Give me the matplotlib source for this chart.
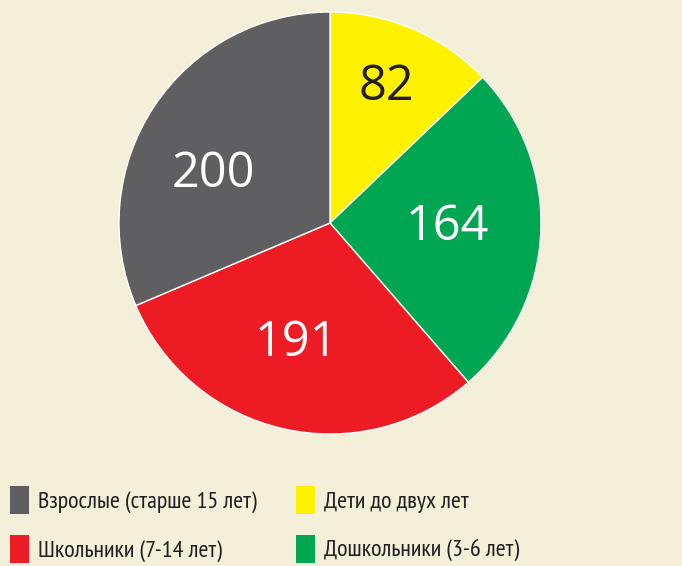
import matplotlib.pyplot as plt
import numpy as np
from matplotlib.patches import Patch
from matplotlib.transforms import offset_copy

# data (clockwise from top)
values = [82, 164, 191, 200]
labels = ["Дети до двух лет", "Дошкольники (3-6 лет)", "Школьники (7-14 лет)", "Взрослые (старше 15 лет)"]
colors = ["#fff200", "#00a651", "#ed1c24", "#5f5f61"]
text_colors = ["#231f20", "white", "white", "white"]
label_dist = [0.71, 0.557, 0.579, 0.605]
label_turn = [1.2, 1.9, -2.9, 9.45]

bg = "#f4efd8"
plt.rcParams['font.family'] = ['PT Sans Narrow', 'DejaVu Sans']

fig = plt.figure(figsize=(6.82, 5.66), dpi=100, facecolor=bg)
# square axes in pixels: center (330,223), radius 211
ax = fig.add_axes([119/682, (566-434)/566, 422/682, 422/566])
ax.set_facecolor(bg)

wedges, _ = ax.pie(values, colors=colors, startangle=90, counterclock=False, radius=1,
                   wedgeprops=dict(edgecolor="white", linewidth=1))
ax.set_xlim(-1, 1)
ax.set_ylim(-1, 1)
ax.axis("off")

num_size = 35
# baseline sits half a digit-height below the wanted ink centre
num_tr = offset_copy(ax.transData, fig=fig, y=-num_size*0.64/2, units='points')
for w, v, d, tc, turn in zip(wedges, values, label_dist, text_colors, label_turn):
    ang = np.deg2rad((w.theta1 + w.theta2) / 2 + turn)
    ax.text(d*np.cos(ang), d*np.sin(ang), str(v), ha="center", va="baseline",
            fontsize=num_size, color=tc, family=['Open Sans', 'DejaVu Sans'],
            transform=num_tr)

order = [3, 2, 0, 1]
handles = [Patch(facecolor=colors[i], edgecolor="none") for i in order]
leg = fig.legend(handles, [labels[i] for i in order], ncol=2, loc="upper left",
                 bbox_to_anchor=(3/682, 1 - 479/566), frameon=False, fontsize=17.4,
                 handlelength=0.76, handleheight=1.4, handletextpad=0.4,
                 labelspacing=0.85, columnspacing=1.63, borderaxespad=0, borderpad=0.3)
for t in leg.get_texts():
    t.set_color("#231f20")

fig.savefig("out.png", dpi=100, facecolor=bg)
